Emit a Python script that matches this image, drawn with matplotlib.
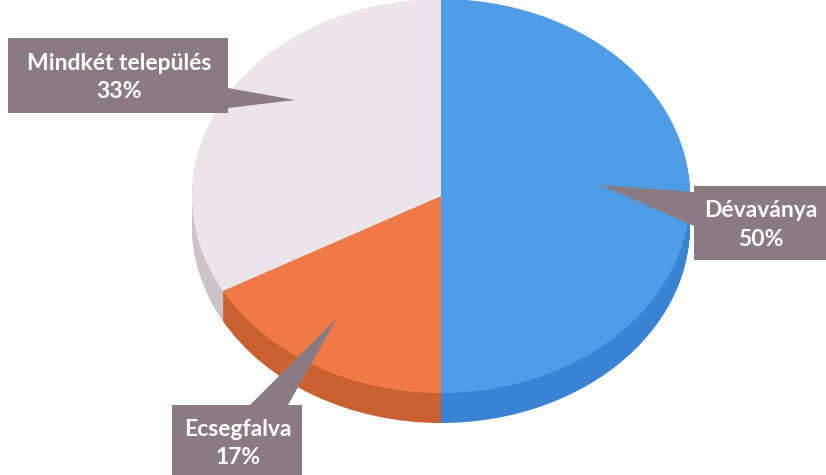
import matplotlib.pyplot as plt
from matplotlib.patches import Polygon

labels = ['Dévaványa', 'Ecsegfalva', 'Mindkét település']
values = [50, 17, 33]
top_colors = ['#4f9de6', '#ef7a47', '#ebe4e8']
side_colors = ['#3a82d2', '#c9602f', '#cbc3c9']

W, H = 826, 475
cx, cy = 441, 196      # centre of top face in pixels
rx, ry = 249, 197      # semi axes
depth = 30

fig = plt.figure(figsize=(W / 100, H / 100), dpi=100)
ax = fig.add_axes([0, 0, 1, 1])

# side of the pie: stacked copies shifted down
n = 30
for k in range(n, 0, -1):
    off = depth * k / n / ry
    ax.pie(values, colors=side_colors, startangle=90, counterclock=False,
           center=(0, -off), radius=1, wedgeprops=dict(linewidth=0))
ax.pie(values, colors=top_colors, startangle=90, counterclock=False,
       center=(0, 0), radius=1, wedgeprops=dict(linewidth=0))
ax.set_aspect('auto')
ax.set_xlim(-cx / rx, (W - cx) / rx)
ax.set_ylim(-(H - cy) / ry, cy / ry)
ax.axis('off')

# callouts in pixel coordinates
ov = fig.add_axes([0, 0, 1, 1])
ov.set_xlim(0, W)
ov.set_ylim(H, 0)
ov.axis('off')
ov.patch.set_alpha(0)

box_col = '#8a7b82'
callouts = {
    'Mindkét település': dict(box=(8, 38, 228, 113),
                              ptr=[(228, 88), (295, 100), (228, 108)]),
    'Dévaványa': dict(box=(694, 186, 826, 260),
                      ptr=[(694, 192), (600, 185), (694, 226)]),
    'Ecsegfalva': dict(box=(172, 405, 302, 480),
                       ptr=[(250, 405), (337, 318), (288, 405)]),
}
for lab, v in zip(labels, values):
    c = callouts[lab]
    x0, y0, x1, y1 = c['box']
    ov.add_patch(Polygon([(x0, y0), (x1, y0), (x1, y1), (x0, y1)],
                         closed=True, facecolor=box_col, edgecolor='none'))
    ov.add_patch(Polygon(c['ptr'], closed=True, facecolor=box_col,
                         edgecolor='none'))
    tx = (x0 + min(x1, W) + 2) / 2
    ty = (y0 + min(y1, H + 3)) / 2 + 2
    ov.text(tx, ty, f'{lab}\n{v}%', ha='center', va='center', color='white',
            fontsize=16.5, fontweight='bold', family='Lato', linespacing=1.45)

fig.savefig('out.png', dpi=100)
